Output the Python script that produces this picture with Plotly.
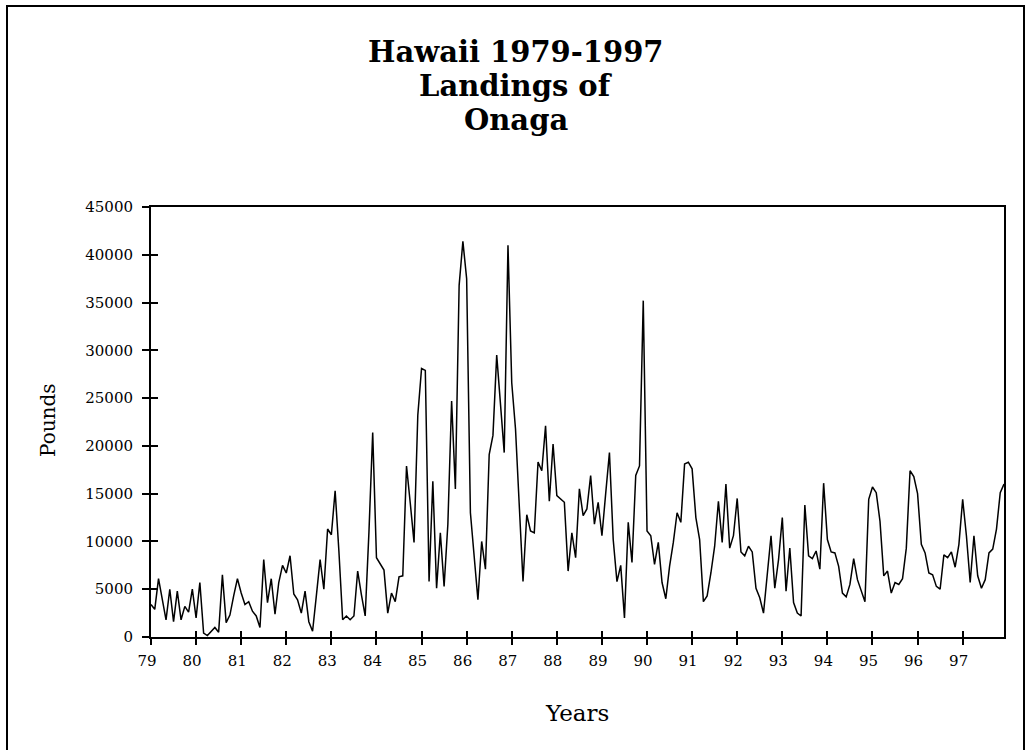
import plotly.graph_objects as go

# monthly landings (pounds)
y1979 = [3400, 2900, 6100, 3800, 1800, 5000, 1600, 4800, 1800, 3200, 2600, 5000]
y1980 = [2000, 5700, 400, 150, 600, 1000, 500, 6500, 1500, 2300, 4300, 6100]
y1981 = [4600, 3400, 3700, 2700, 2200, 1000, 8100, 3600, 6100, 2400, 5700, 7500]
y1982 = [6700, 8500, 4500, 3900, 2500, 4800, 1600, 600, 4300, 8100, 5000, 11300]
y1983 = [10700, 15300, 9000, 1800, 2200, 1800, 2200, 6900, 4400, 2200, 11000, 21400]
y1984 = [8300, 7600, 7000, 2500, 4600, 3700, 6300, 6400, 17900, 14000, 9900, 23200]
y1985 = [28100, 27900, 5800, 16300, 5100, 10900, 5300, 11800, 24700, 15500, 36800, 41400]
y1986 = [37500, 13000, 8000, 3900, 10000, 7100, 19100, 21100, 29500, 24400, 19300, 41000]
y1987 = [26600, 21800, 13000, 5800, 12800, 11100, 10900, 18300, 17400, 22100, 14200, 20200]
y1988 = [14800, 14400, 14100, 6900, 10900, 8300, 15500, 12700, 13400, 16900, 11800, 14100]
y1989 = [10600, 15000, 19300, 10200, 5800, 7500, 2000, 12000, 7800, 16900, 17900, 35200]
y1990 = [11100, 10600, 7600, 9900, 5700, 4000, 7400, 9900, 13000, 12000, 18100, 18300]
y1991 = [17600, 12500, 10200, 3700, 4300, 6700, 9500, 14200, 9900, 16000, 9300, 10600]
y1992 = [14500, 8900, 8500, 9500, 8900, 5100, 4100, 2500, 6500, 10600, 5100, 8100]
y1993 = [12500, 4800, 9300, 3600, 2500, 2200, 13800, 8500, 8200, 9000, 7100, 16100]
y1994 = [10200, 8900, 8800, 7400, 4600, 4200, 5500, 8200, 6000, 4800, 3700, 14400]
y1995 = [15700, 15100, 12100, 6400, 6900, 4600, 5700, 5500, 6100, 9300, 17400, 16800]
y1996 = [15000, 9700, 8800, 6700, 6500, 5300, 5000, 8600, 8300, 8900, 7300, 9700]
y1997 = [14400, 10600, 5700, 10600, 6400, 5100, 6000, 8800, 9200, 11300, 15100, 16000]

year_labels = ["79", "80", "81", "82", "83", "84", "85", "86", "87", "88",
               "89", "90", "91", "92", "93", "94", "95", "96", "97"]
pound_ticks = [0, 5000, 10000, 15000, 20000, 25000, 30000, 35000, 40000, 45000]

pounds = (y1979 + y1980 + y1981 + y1982 + y1983 + y1984 + y1985 + y1986 + y1987
          + y1988 + y1989 + y1990 + y1991 + y1992 + y1993 + y1994 + y1995
          + y1996 + y1997)
months = list(range(len(pounds)))
year_ticks = [12 * k for k in range(len(year_labels))]

# plot area in pixels (1033x750 page)
L, R, T, B = 151, 1004, 207, 637
W, H = R - L, B - T


def px(x):
    return (x - L) / W


def py(y):
    return (B - y) / H


serif = "DejaVu Serif"

fig = go.Figure()
fig.add_trace(go.Scatter(x=months, y=pounds, mode="lines",
                         line=dict(color="black", width=1.5),
                         showlegend=False, hoverinfo="x+y"))
# invisible trace to activate the overlay axes used for inside tick halves
fig.add_trace(go.Scatter(x=[0], y=[0], mode="markers", marker=dict(opacity=0),
                         xaxis="x2", yaxis="y2", showlegend=False, hoverinfo="skip"))

axis_common = dict(showgrid=False, zeroline=False, linecolor="black",
                   linewidth=2, tickcolor="black", tickwidth=1.5)

fig.update_layout(
    width=1033, height=750,
    margin=dict(l=L, r=1033 - R, t=T, b=750 - B),
    paper_bgcolor="white", plot_bgcolor="white",
    font=dict(family=serif, color="black"),
    xaxis=dict(range=[0, len(pounds) - 1], tickmode="array",
               tickvals=year_ticks, ticktext=year_labels,
               ticks="outside", ticklen=6, mirror=True, showline=True,
               tickfont=dict(size=15, family=serif), ticklabelstandoff=3,
               ticklabelshift=-4, **axis_common),
    yaxis=dict(range=[0, 45000], tickmode="array", tickvals=pound_ticks,
               ticktext=[str(v) for v in pound_ticks],
               ticks="outside", ticklen=7, mirror=True, showline=True,
               tickfont=dict(size=15, family=serif), ticklabelstandoff=6,
               **axis_common),
    xaxis2=dict(overlaying="x", anchor="y", side="bottom",
                range=[0, len(pounds) - 1], tickmode="array",
                tickvals=year_ticks, ticks="inside", ticklen=6,
                showticklabels=False, showline=False, showgrid=False,
                zeroline=False, tickcolor="black", tickwidth=1.5),
    yaxis2=dict(overlaying="y", anchor="x", side="left", range=[0, 45000],
                tickmode="array", tickvals=pound_ticks, ticks="inside",
                ticklen=7, showticklabels=False, showline=False,
                showgrid=False, zeroline=False, tickcolor="black",
                tickwidth=1.5),
)

# title lines
for text, yc in [("Hawaii 1979-1997", 52), ("Landings of", 86), ("Onaga", 120)]:
    fig.add_annotation(text="<b>" + text + "</b>", x=px(516), y=py(yc),
                       xref="paper", yref="paper", showarrow=False,
                       xanchor="center", yanchor="middle",
                       font=dict(size=29, family=serif, color="black"))

fig.add_annotation(text="Pounds", x=px(48), y=py(420), xref="paper", yref="paper",
                   showarrow=False, textangle=-90, xanchor="center", yanchor="middle",
                   font=dict(size=20, family=serif, color="black"))
fig.add_annotation(text="Years", x=px(577), y=py(713), xref="paper", yref="paper",
                   showarrow=False, xanchor="center", yanchor="middle",
                   font=dict(size=23, family=serif, color="black"))

# outer chart frame (bottom edge runs off the page)
fig.add_shape(type="rect", xref="paper", yref="paper",
              x0=px(7), x1=px(1024), y0=py(790), y1=py(6),
              line=dict(color="black", width=2), layer="above")

# page body margin would push the figure 8px off; remove it
fig.write_html("out.html", config={"displayModeBar": False},
               post_script="document.body.style.margin='0';document.body.style.overflow='hidden';")
